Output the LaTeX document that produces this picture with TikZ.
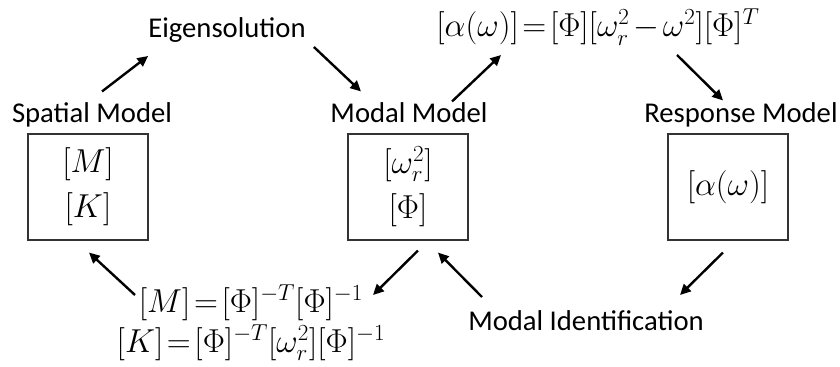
\documentclass[tikz,border=0pt]{standalone}
\usepackage{fontspec}
\setmainfont{Carlito}
\usetikzlibrary{arrows.meta,positioning}
\tikzset{
    modelbox/.style={
        draw=black!80,
        fill=white,
        line width=0.8pt,
        minimum width=90pt,
        minimum height=79.5pt,
        align=center,
        font=\fontsize{24}{34}\selectfont
    },
    modellabel/.style={
        anchor=base,
        inner sep=0pt,
        font=\fontsize{21.5}{26}\selectfont
    },
    formula/.style={
        align=center,
        inner sep=0pt,
        font={\fontsize{24}{30}\selectfont\thickmuskip=2mu\medmuskip=2mu}
    },
    flowarrow/.style={
        -{Triangle[length=8pt,width=7.5pt]},
        draw=black,
        line width=1.8pt
    }
}

\begin{document}
\begin{tikzpicture}[x=0.75pt,y=-0.75pt]
        \useasboundingbox (0,0) rectangle (840,367);

        \node[modelbox] (spatial) at (88,187) {$[M]$\\$[K]$};
        \node[modelbox] (modal) at (408,187) {$[\omega_r^2]$\\$[\Phi]$};
        \node[modelbox] (response) at (728,187) {$[\alpha(\omega)]$};

        \node[modellabel] (spatiallabel) at (92,123) {Spatial Model};
        \node[modellabel] (modallabel) at (409,123) {Modal Model};
        \node[modellabel] (responselabel) at (741,123) {Response Model};

        \node[modellabel] (eigen) at (227,38) {Eigensolution};
        \node[modellabel] (modalid) at (586,330) {Modal Identification};

        \node[formula,anchor=base] (frf) at (598,37)
            {$[\alpha(\omega)]=[\Phi][\omega_r^2-\omega^2][\Phi]^T$};
        \node[formula] (inverse) at (251,323)
            {$[M]=[\Phi]^{-T}[\Phi]^{-1}$\\
             $[K]=[\Phi]^{-T}[\omega_r^2][\Phi]^{-1}$};

        \draw[flowarrow] ([shift={(14,-42)}]spatial.north) -- ([shift={(0,18)}]eigen.base west);
        \draw[flowarrow] ([shift={(8,9)}]eigen.base east) -- ([shift={(-47,-42)}]modal.north);
        \draw[flowarrow] ([shift={(44,-32)}]modal.north) -- ([shift={(-97,18)}]frf.base);
        \draw[flowarrow] ([shift={(79,18)}]frf.base) -- ([shift={(-5,-33)}]response.north);
        \draw[flowarrow] ([shift={(-5,12)}]response.south) -- ([shift={(94,-35)}]modalid.base);
        \draw[flowarrow] ([shift={(-104,-33)}]modalid.base) -- ([shift={(30,12)}]modal.south);
        \draw[flowarrow] ([shift={(10,10)}]modal.south) -- ([shift={(122,-28)}]inverse.center);
        \draw[flowarrow] ([shift={(-116,-28)}]inverse.center) -- ([shift={(1,12)}]spatial.south);
    \end{tikzpicture}
\end{document}
